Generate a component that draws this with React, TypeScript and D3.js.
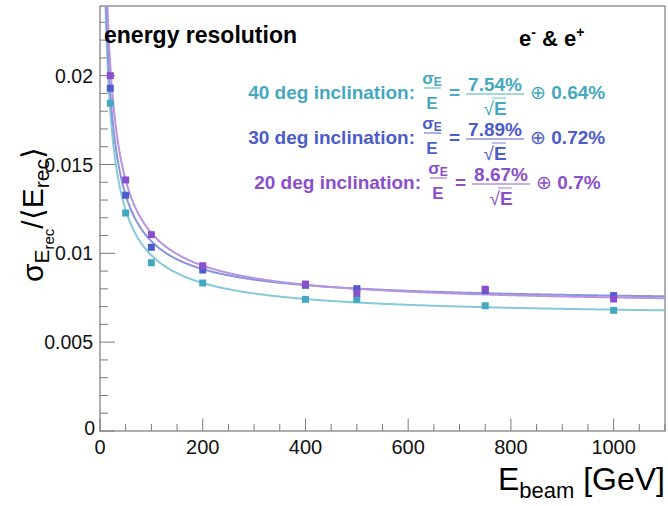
import React, { useEffect, useRef } from 'react';
import * as d3 from 'd3';

// beam energies [GeV]
const energies = [20, 50, 100, 200, 400, 500, 750, 1000];
// sigma_E / <E> for the three inclinations
const res40 = [0.01845, 0.01227, 0.00947, 0.00833, 0.00741, 0.00741, 0.00705, 0.00679];
const res30 = [0.01929, 0.01327, 0.01034, 0.00906, 0.0082, 0.00801, 0.0079, 0.00762];
const res20 = [0.0200, 0.01413, 0.01105, 0.0093, 0.00827, 0.00775, 0.00798, 0.00743];

// fit parameters: stochastic term, constant term
const fitNames = ['40 deg inclination:', '30 deg inclination:', '20 deg inclination:'];
const fitStoch = ['7.54%', '7.89%', '8.67%'];
const fitConst = ['0.64%', '0.72%', '0.7%'];

const xTicks = [0, 200, 400, 600, 800, 1000];
const yTicks = [0, 0.005, 0.01, 0.015, 0.02];

const W = 668;
const H = 506;
const margin = { left: 100, right: 3, top: 6, bottom: 75 };
const font = '"Liberation Sans", Arial, sans-serif';
const axisColor = '#7a7a7a';

const series = [
  { values: res40, point: '#45a8c1', line: '#86c9d8', text: '#45a8c1' },
  { values: res30, point: '#4c5ccb', line: '#8a94dc', text: '#4c5ccb' },
  { values: res20, point: '#8a4fcb', line: '#b893e2', text: '#8a4fcb' },
];

const App = () => {
  const gRef = useRef<SVGGElement>(null);

  useEffect(() => {
    const root = d3.select(gRef.current);
    root.selectAll('*').remove();
    const x0 = margin.left;
    const x1 = W - margin.right;
    const y0 = H - margin.bottom;
    const y1 = margin.top;

    const x = d3.scaleLinear().domain([0, 1100]).range([x0, x1]);
    const y = d3.scaleLinear().domain([0, 0.02392]).range([y0, y1]);

    root.append('defs').append('clipPath').attr('id', 'plot')
      .append('rect').attr('x', x0).attr('y', y1).attr('width', x1 - x0).attr('height', y0 - y1);

    // X axis
    const gx = root.append('g').attr('transform', `translate(0,${y0})`);
    d3.range(0, 1101, 50).forEach(v => {
      const major = v % 200 === 0;
      gx.append('line').attr('x1', x(v)).attr('x2', x(v)).attr('y1', 0).attr('y2', major ? -12.5 : -7)
        .attr('stroke', axisColor).attr('stroke-width', 1);
    });
    xTicks.forEach(v => {
      gx.append('text').attr('x', x(v)).attr('y', 23).attr('text-anchor', 'middle')
        .attr('font-family', font).attr('font-size', 20).attr('fill', '#111').text(String(v));
    });

    // Y axis
    const gy = root.append('g').attr('transform', `translate(${x0},0)`);
    d3.range(0, 24).forEach(i => {
      const v = i * 0.001;
      const major = i % 5 === 0;
      gy.append('line').attr('x1', 0).attr('x2', major ? 15 : 8).attr('y1', y(v)).attr('y2', y(v))
        .attr('stroke', axisColor).attr('stroke-width', 1);
    });
    yTicks.forEach(v => {
      gy.append('text').attr('x', v === 0 ? -5 : -7).attr('y', y(v)).attr('dy', v === 0 ? '0.2em' : '0.36em')
        .attr('text-anchor', 'end').attr('font-family', font).attr('font-size', 19.5).attr('fill', '#111')
        .text(v === 0 ? '0' : d3.format('')(v));
    });

    // frame
    root.append('rect').attr('x', x0).attr('y', y1).attr('width', x1 - x0).attr('height', y0 - y1)
      .attr('fill', 'none').attr('stroke', axisColor).attr('stroke-width', 1.2);

    // fit curves
    const plot = root.append('g').attr('clip-path', 'url(#plot)');
    const grid = d3.range(4, 1101, 2);
    series.forEach((s, i) => {
      const a = parseFloat(fitStoch[i]) / 100;
      const c = parseFloat(fitConst[i]) / 100;
      const line = d3.line<number>()
        .x(e => x(e))
        .y(e => y(Math.sqrt((a * a) / e + c * c)))
        .curve(d3.curveMonotoneX);
      plot.append('path').datum(grid).attr('d', line).attr('fill', 'none')
        .attr('stroke', s.line).attr('stroke-width', 2);
    });

    // data points
    series.forEach(s => {
      plot.selectAll(null).data(energies.map((e, k) => [e, s.values[k]]))
        .enter().append('rect')
        .attr('x', d => x(d[0]) - 3.5).attr('y', d => y(d[1]) - 3.5)
        .attr('width', 7).attr('height', 7).attr('fill', s.point);
    });
  }, []);

  const rowY = [99, 144, 189];
  const rowDx = [0, 0, 6];

  return (
    <svg width={W} height={H}
      style={{ position: 'absolute', left: 0, top: 0, background: 'white' }}>
      <rect width={W} height={H} fill="white" />
      <g ref={gRef} />
      <g fontFamily={font}>
        <text x={104} y={43} fontSize={23} fontWeight="bold" fill="#000">energy resolution</text>
        <text x={519} y={46} fontSize={22} fontWeight="bold" fill="#000">
          e<tspan fontSize={14} dy={-9}>-</tspan>
          <tspan dy={9}> &amp; e</tspan>
          <tspan fontSize={14} dy={-9}>+</tspan>
        </text>
        {fitNames.map((name, i) => {
          const s = series[i];
          const by = rowY[i];
          const dx = rowDx[i];
          return (
            <g key={name} fill={s.text} fontWeight="bold" fontSize={19}>
              <text x={415 + dx} y={by} textAnchor="end">{name}</text>
              <text x={432 + dx} y={by - 15} textAnchor="middle" fontSize={17}>
                σ<tspan fontSize={12} dy={2}>E</tspan>
              </text>
              <line x1={424 + dx} x2={441 + dx} y1={by - 11} y2={by - 11} stroke={s.line} strokeWidth={1.5} />
              <text x={432 + dx} y={by + 10} textAnchor="middle" fontSize={17}>E</text>
              <text x={449 + dx} y={by}>=</text>
              <text x={495 + dx} y={by - 8} textAnchor="middle">{fitStoch[i]}</text>
              <line x1={466 + dx} x2={524 + dx} y1={by - 5} y2={by - 5} stroke={s.line} strokeWidth={1.5} />
              <text x={495 + dx} y={by + 16} textAnchor="middle">
                <tspan fontWeight="normal">√</tspan>E
              </text>
              <line x1={492 + dx} x2={506 + dx} y1={by - 1} y2={by - 1} stroke={s.line} strokeWidth={1.2} />
              <text x={530 + dx} y={by}>
                <tspan fontWeight="normal">⊕</tspan> {fitConst[i]}
              </text>
            </g>
          );
        })}
        {/* y title */}
        <text transform="translate(43,282) rotate(-90)" fontSize={30} fill="#000">
          σ<tspan fontSize={21} dy={6}>E</tspan>
          <tspan fontSize={15} dy={5}>rec</tspan>
          <tspan fontSize={30} dy={-11}>/⟨E</tspan>
          <tspan fontSize={21} dy={6}>rec</tspan>
          <tspan fontSize={30} dy={-6}>⟩</tspan>
        </text>
        {/* x title */}
        <text x={665} y={490} textAnchor="end" fontSize={32} fill="#000">
          E<tspan fontSize={22} dy={8}>beam</tspan>
          <tspan dy={-8}> [GeV]</tspan>
        </text>
      </g>
    </svg>
  );
};

export default App;
